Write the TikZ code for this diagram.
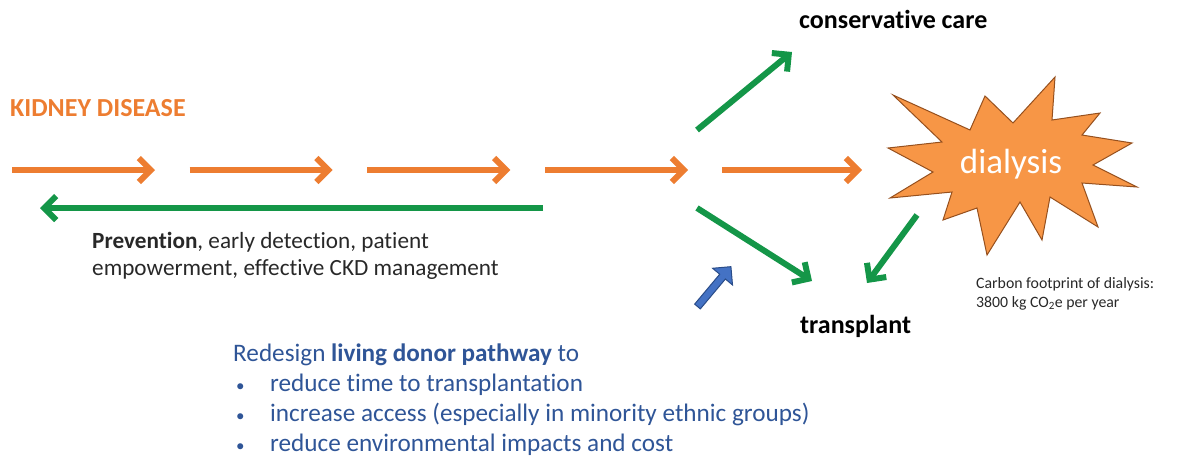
\documentclass[tikz,border=0pt]{standalone}
\usepackage{fontspec}
\setmainfont{Carlito}[Ligatures=NoCommon]
\usetikzlibrary{arrows.meta,shapes.arrows}

\definecolor{ckdorange}{RGB}{237,125,49}
\definecolor{ckdgreen}{RGB}{20,150,72}
\definecolor{ckdblue}{RGB}{47,85,151}
\definecolor{donorblue}{RGB}{68,114,196}
\definecolor{burstfill}{RGB}{247,150,70}
\definecolor{burstline}{RGB}{150,80,30}
\definecolor{bodytext}{RGB}{40,40,40}

\newcommand{\listbullet}{\hspace*{3pt}\makebox[34pt][l]{\fontsize{17}{17}\selectfont\textbullet}}

\tikzset{
  flow/.style={line width=6pt, -{Straight Barb[length=12pt,width=24pt]}},
  progress/.style={flow, draw=ckdorange},
  care/.style={flow, draw=ckdgreen},
  txt/.style={inner sep=0pt, anchor=base west, text=bodytext}
}

\begin{document}
\begin{tikzpicture}[x=1pt, y=-1pt]
  \useasboundingbox (0,0) rectangle (1182,459);

  % --- Titolo ---
  \node[txt, text=ckdorange, font=\bfseries\fontsize{26}{30}\selectfont] (kidney) at (10,116) {KIDNEY DISEASE};

  % --- Catena della malattia ---
  \foreach \i in {0,...,3} {
    \coordinate (s\i) at ({12+177.7*\i},170);
    \coordinate (e\i) at ({155+177.7*\i},170);
    \draw[progress] (s\i) -- (e\i);
  }
  \coordinate (fromfork) at (722,170);
  \coordinate (tod) at (862,170);
  \draw[progress] (fromfork) -- (tod);

  % --- Prevenzione ---
  \coordinate (back0) at (543,208);
  \coordinate (back1) at (40,208);
  \draw[care] (back0) -- (back1);
  % (base = ultima riga)
  \node[txt, align=left, font=\fontsize{23.2}{27}\selectfont] (prev) at (92,275)
    {\textbf{Prevention}, early detection, patient\\empowerment, effective CKD management};

  % --- Esiti ---
  \node[txt, text=black, font=\bfseries\fontsize{26}{30}\selectfont] (cons) at (799,28) {conservative care};
  \node[txt, text=black, font=\bfseries\fontsize{26}{30}\selectfont] (trans) at (800,333) {transplant};

  \coordinate (up0) at (697,130);
  \coordinate (up1) at (792,52);
  \draw[care] (up0) -- (up1);
  \coordinate (dn0) at (697,208);
  \coordinate (dn1) at (812,281);
  \draw[care] (dn0) -- (dn1);

  % --- Dialisi ---
  \draw[burstline, fill=burstfill, line width=1pt, line join=miter]
    (893,95) -- (970,130) -- (985,96) -- (1013,123) -- (1055,77) -- (1052,120)
    -- (1100,113) -- (1082,135) -- (1132,143) -- (1093,165) -- (1137,187)
    -- (1082,183) -- (1098,227) -- (1050,197) -- (1042,240) -- (1020,202)
    -- (987,255) -- (977,208) -- (943,220) -- (952,192) -- (890,198)
    -- (933,172) -- (888,148) -- (942,142) -- cycle;
  \node[inner sep=0pt, text=white, font=\fontsize{35}{40}\selectfont] (dial) at (1011,164) {dialysis};

  \coordinate (dt0) at (917,215);
  \coordinate (dt1) at (867,283);
  \draw[care] (dt0) -- (dt1);

  \node[txt, align=left, font=\fontsize{15.8}{19}\selectfont] (carbon) at (976,307)
    {Carbon footprint of dialysis:\\3800 kg CO\textsubscript{2}e per year};

  % --- Donatore vivente ---
  \node[single arrow, draw=ckdblue!90!black, fill=donorblue,
    line width=1pt, minimum height=52pt, minimum width=26pt, inner sep=1.5pt,
    single arrow head extend=5pt, rotate=50] (donor) at (713,288) {};

  \node[txt, text=ckdblue, align=left, font=\fontsize{25.2}{29.7}\selectfont] (redesign) at (233,451)
    {Redesign \textbf{living donor pathway} to\\
     \listbullet reduce time to transplantation\\
     \listbullet increase access (especially in minority ethnic groups)\\
     \listbullet reduce environmental impacts and cost};
\end{tikzpicture}
\end{document}
